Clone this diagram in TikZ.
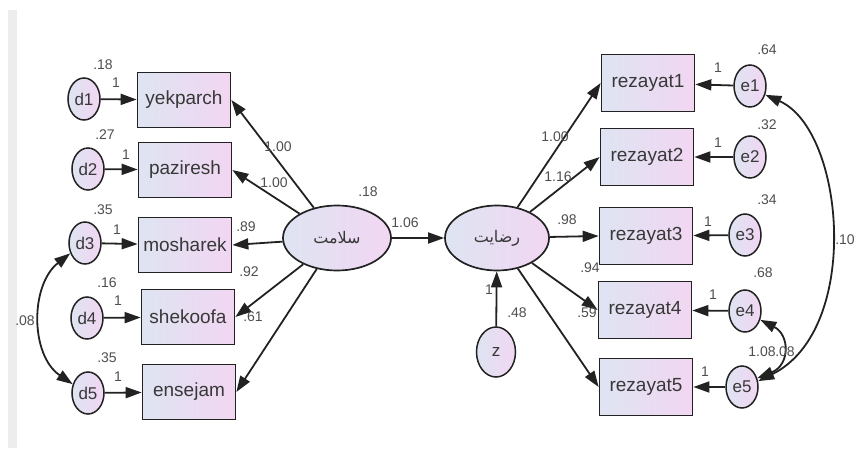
\documentclass[tikz,border=0pt]{standalone}
\usepackage{fontspec}
\setmainfont{Liberation Sans}
\newfontfamily\arabicfont[Script=Arabic]{DejaVu Sans}
\TeXXeTstate=1
\usepackage{tikz}
\usetikzlibrary{shapes.geometric, arrows.meta}
\usepackage{xcolor}
\definecolor{boxleft}{RGB}{222,228,242}
\definecolor{boxright}{RGB}{242,214,242}
\definecolor{ink}{RGB}{34,34,34}

\begin{document}
\begin{tikzpicture}[x=1pt,y=-1pt]
	\tikzstyle{obs} = [rectangle,draw=ink,line width=1.7pt,left color=boxleft,right color=boxright,minimum width=93pt,minimum height=55pt,inner sep=0pt,text=ink!90,font=\fontsize{19}{21}\selectfont]
	\tikzstyle{err} = [ellipse,draw=ink,line width=1.5pt,left color=boxleft,right color=boxright,minimum width=32pt,minimum height=42pt,inner sep=0pt,text=ink!90,font=\fontsize{17}{19}\selectfont]
	\tikzstyle{latent} = [ellipse,draw=ink,line width=1.7pt,left color=boxleft,right color=boxright,minimum width=108pt,minimum height=65pt,inner sep=0pt,text=ink!90,font=\arabicfont\fontsize{16}{18}\selectfont]
	\tikzstyle{num} = [inner sep=0pt,text=ink!80,font=\fontsize{14}{15}\selectfont]
	\tikzstyle{edge} = [-{Triangle[length=16pt,width=11pt]},line width=1.8pt,draw=ink]
	\tikzstyle{cov} = [{Triangle[length=16pt,width=11pt]}-{Triangle[length=16pt,width=11pt]},line width=1.8pt,draw=ink]
	\useasboundingbox (0,0) rectangle (855,450);
	\fill[black!7] (8,10) rectangle (17,448);
	% latent variables
	\node[latent] (s) at (337,238) {\beginR سلامت\endR};
	\node[latent,minimum width=104pt] (r) at (497,238) {\beginR رضایت\endR};
	\node[err,minimum width=39pt,minimum height=50pt] (z) at (496,352) {z};
	% left side
	\node[obs] (y1) at (184,100) {yekparch};
	\node[obs] (y2) at (185,170) {paziresh};
	\node[obs] (y3) at (185,245) {mosharek};
	\node[obs] (y4) at (188,317) {shekoofa};
	\node[obs] (y5) at (189,392) {ensejam};
	\node[err] (d1) at (84,99) {d1};
	\node[err] (d2) at (88,169) {d2};
	\node[err] (d3) at (85,243) {d3};
	\node[err] (d4) at (87,318) {d4};
	\node[err] (d5) at (88,393) {d5};
	% right side
	\node[obs,minimum height=57pt] (x1) at (648,83) {rezayat1};
	\node[obs,minimum height=57pt] (x2) at (647,157) {rezayat2};
	\node[obs,minimum height=57pt] (x3) at (646,236) {rezayat3};
	\node[obs,minimum height=57pt] (x4) at (645,310) {rezayat4};
	\node[obs,minimum height=57pt] (x5) at (646,387) {rezayat5};
	\node[err] (e1) at (750,86) {e1};
	\node[err] (e2) at (750,157) {e2};
	\node[err] (e3) at (745,235) {e3};
	\node[err] (e4) at (745,311) {e4};
	\node[err] (e5) at (742,387) {e5};
	% paths
	\draw[edge] (d1)--(y1);
	\draw[edge] (d2)--(y2);
	\draw[edge] (d3)--(y3);
	\draw[edge] (d4)--(y4);
	\draw[edge] (d5)--(y5);
	\draw[edge] (s)--(y1.east);
	\draw[edge] (s)--(y2.east);
	\draw[edge] (s)--(y3.east);
	\draw[edge] (s)--(y4.east);
	\draw[edge] (s)--(y5.east);
	\draw[edge] (s)--(r);
	\draw[edge] (z)--(r);
	\draw[edge] (r)--(x1.west);
	\draw[edge] (r)--(x2.west);
	\draw[edge] (r)--(x3.west);
	\draw[edge] (r)--(x4.west);
	\draw[edge] (r)--(x5.west);
	\draw[edge] (e1)--(x1);
	\draw[edge] (e2)--(x2);
	\draw[edge] (e3)--(x3);
	\draw[edge] (e4)--(x4);
	\draw[edge] (e5)--(x5);
	\draw[cov] (d3.215) .. controls (30,285) and (30,355) .. (d5.150);
	\draw[cov] (e1.330) .. controls (845,130) and (862,330) .. (e5.20);
	\draw[cov] (e4.330) .. controls (790,335) and (790,365) .. (e5.30);
	% estimates
	\node[num] (vd1) at (103,65) {.18};
	\node[num] (vd2) at (105,135) {.27};
	\node[num] (vd3) at (103,210) {.35};
	\node[num] (vd4) at (107,283) {.16};
	\node[num] (vd5) at (107,358) {.35};
	\node[num] (wd1) at (116,83) {1};
	\node[num] (wd2) at (126,155) {1};
	\node[num] (wd3) at (117,230) {1};
	\node[num] (wd4) at (118,301) {1};
	\node[num] (wd5) at (118,377) {1};
	\node[num] (ly1) at (278,147) {1.00};
	\node[num] (ly2) at (274,183) {1.00};
	\node[num] (ly3) at (246,227) {.89};
	\node[num] (ly4) at (249,272) {.92};
	\node[num] (ly5) at (253,317) {.61};
	\node[num] (cd) at (25,321) {.08};
	\node[num] (vs) at (368,192) {.18};
	\node[num] (bsr) at (405,223) {1.06};
	\node[num] (wz) at (489,290) {1};
	\node[num] (vz) at (517,313) {.48};
	\node[num] (ve1) at (767,50) {.64};
	\node[num] (ve2) at (767,125) {.32};
	\node[num] (ve3) at (767,200) {.34};
	\node[num] (ve4) at (763,273) {.68};
	\node[num] (we1) at (718,68) {1};
	\node[num] (we2) at (718,143) {1};
	\node[num] (we3) at (708,222) {1};
	\node[num] (we4) at (713,295) {1};
	\node[num] (we5) at (705,372) {1};
	\node[num] (lx1) at (555,137) {1.00};
	\node[num] (lx2) at (558,177) {1.16};
	\node[num] (lx3) at (567,220) {.98};
	\node[num] (lx4) at (590,268) {.94};
	\node[num] (lx5) at (587,313) {.59};
	\node[num] (ce15) at (845,240) {.10};
	\node[num] (ve5) at (762,352) {1.08};
	\node[num] (ce45) at (785,352) {.08};
\end{tikzpicture}
\end{document}
